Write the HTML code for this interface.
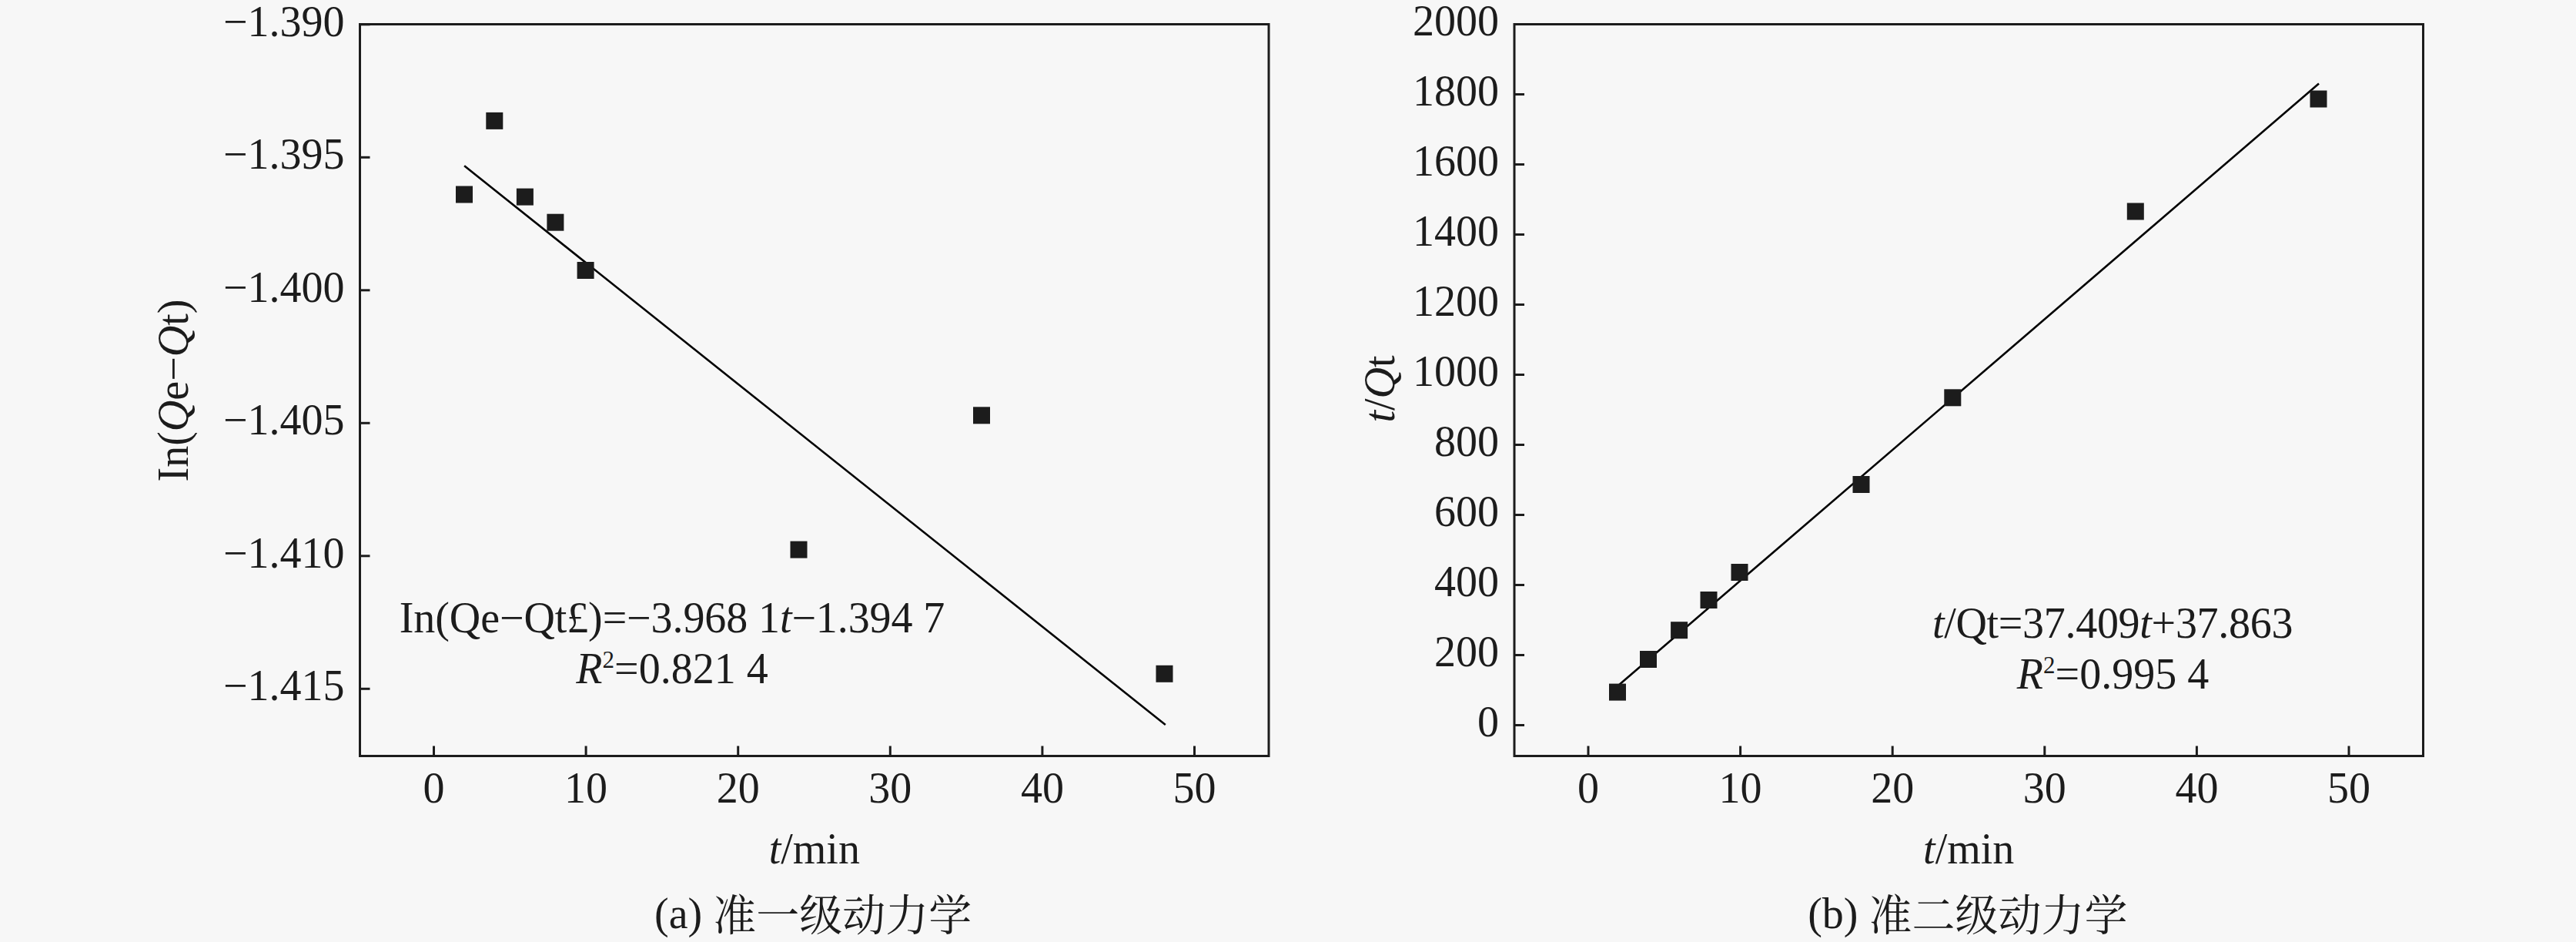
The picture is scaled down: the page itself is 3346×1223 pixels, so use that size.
<!DOCTYPE html>
<html><head><meta charset="utf-8"><style>
html,body{margin:0;padding:0;background:#f7f7f7;}
body{width:3346px;height:1223px;overflow:hidden;}
svg{display:block;}
</style></head><body>
<svg width="3346" height="1223" viewBox="0 0 3346 1223">
<rect width="3346" height="1223" fill="#f7f7f7"/>
<g font-family='"Liberation Serif", "Noto Serif CJK SC", serif' font-size="56" fill="#1c1c1c">
<rect x="467.5" y="31.5" width="1180.5" height="950.0" fill="none" stroke="#1c1c1c" stroke-width="3"/>
<line x1="467.5" y1="31.8" x2="480.5" y2="31.8" stroke="#1c1c1c" stroke-width="3"/>
<text x="447.5" y="46.6" text-anchor="end">−1.390</text>
<line x1="467.5" y1="204.3" x2="480.5" y2="204.3" stroke="#1c1c1c" stroke-width="3"/>
<text x="447.5" y="219.1" text-anchor="end">−1.395</text>
<line x1="467.5" y1="376.8" x2="480.5" y2="376.8" stroke="#1c1c1c" stroke-width="3"/>
<text x="447.5" y="391.6" text-anchor="end">−1.400</text>
<line x1="467.5" y1="549.3" x2="480.5" y2="549.3" stroke="#1c1c1c" stroke-width="3"/>
<text x="447.5" y="564.1" text-anchor="end">−1.405</text>
<line x1="467.5" y1="721.8" x2="480.5" y2="721.8" stroke="#1c1c1c" stroke-width="3"/>
<text x="447.5" y="736.6" text-anchor="end">−1.410</text>
<line x1="467.5" y1="894.3" x2="480.5" y2="894.3" stroke="#1c1c1c" stroke-width="3"/>
<text x="447.5" y="909.1" text-anchor="end">−1.415</text>
<line x1="563.5" y1="981.5" x2="563.5" y2="968.5" stroke="#1c1c1c" stroke-width="3"/>
<text x="563.5" y="1041.7" text-anchor="middle">0</text>
<line x1="761.1" y1="981.5" x2="761.1" y2="968.5" stroke="#1c1c1c" stroke-width="3"/>
<text x="761.1" y="1041.7" text-anchor="middle">10</text>
<line x1="958.7" y1="981.5" x2="958.7" y2="968.5" stroke="#1c1c1c" stroke-width="3"/>
<text x="958.7" y="1041.7" text-anchor="middle">20</text>
<line x1="1156.3" y1="981.5" x2="1156.3" y2="968.5" stroke="#1c1c1c" stroke-width="3"/>
<text x="1156.3" y="1041.7" text-anchor="middle">30</text>
<line x1="1353.9" y1="981.5" x2="1353.9" y2="968.5" stroke="#1c1c1c" stroke-width="3"/>
<text x="1353.9" y="1041.7" text-anchor="middle">40</text>
<line x1="1551.5" y1="981.5" x2="1551.5" y2="968.5" stroke="#1c1c1c" stroke-width="3"/>
<text x="1551.5" y="1041.7" text-anchor="middle">50</text>
<line x1="603.1" y1="215.3" x2="1513.8" y2="941" stroke="#000" stroke-width="2.6"/>
<rect x="592.0" y="241.5" width="22" height="22" fill="#1c1c1c"/>
<rect x="631.3" y="145.9" width="22" height="22" fill="#1c1c1c"/>
<rect x="670.9" y="244.6" width="22" height="22" fill="#1c1c1c"/>
<rect x="710.4" y="277.7" width="22" height="22" fill="#1c1c1c"/>
<rect x="749.6" y="340.0" width="22" height="22" fill="#1c1c1c"/>
<rect x="1026.5" y="702.6" width="22" height="22" fill="#1c1c1c"/>
<rect x="1264.0" y="528.3" width="22" height="22" fill="#1c1c1c"/>
<rect x="1501.5" y="863.8" width="22" height="22" fill="#1c1c1c"/>
<text x="873" y="820.6" text-anchor="middle" letter-spacing="-0.1">In(Qe−Qt£)=−3.968 1<tspan font-style="italic">t</tspan>−1.394 7</text>
<text x="873" y="886.6" text-anchor="middle" letter-spacing="0"><tspan font-style="italic">R</tspan><tspan font-size="31" dy="-20">2</tspan><tspan dy="20">=0.821 4</tspan></text>
<text x="1057.8" y="1121" text-anchor="middle"><tspan font-style="italic">t</tspan>/min</text>
<text x="1056.2" y="1205" text-anchor="middle">(a) <tspan font-family="'Liberation Serif', 'Noto Serif CJK SC', serif" font-weight="400" dy="3">准一级动力学</tspan></text>
<text transform="translate(244,507) rotate(-90)" text-anchor="middle">In(<tspan font-style="italic">Q</tspan>e−<tspan font-style="italic">Q</tspan>t)</text>
<rect x="1967.0" y="31.5" width="1180.5" height="950.0" fill="none" stroke="#1c1c1c" stroke-width="3"/>
<line x1="1967.0" y1="31.5" x2="1980.0" y2="31.5" stroke="#1c1c1c" stroke-width="3"/>
<text x="1947.0" y="46.3" text-anchor="end">2000</text>
<line x1="1967.0" y1="122.5" x2="1980.0" y2="122.5" stroke="#1c1c1c" stroke-width="3"/>
<text x="1947.0" y="137.3" text-anchor="end">1800</text>
<line x1="1967.0" y1="213.5" x2="1980.0" y2="213.5" stroke="#1c1c1c" stroke-width="3"/>
<text x="1947.0" y="228.3" text-anchor="end">1600</text>
<line x1="1967.0" y1="304.5" x2="1980.0" y2="304.5" stroke="#1c1c1c" stroke-width="3"/>
<text x="1947.0" y="319.3" text-anchor="end">1400</text>
<line x1="1967.0" y1="395.5" x2="1980.0" y2="395.5" stroke="#1c1c1c" stroke-width="3"/>
<text x="1947.0" y="410.3" text-anchor="end">1200</text>
<line x1="1967.0" y1="486.5" x2="1980.0" y2="486.5" stroke="#1c1c1c" stroke-width="3"/>
<text x="1947.0" y="501.3" text-anchor="end">1000</text>
<line x1="1967.0" y1="577.5" x2="1980.0" y2="577.5" stroke="#1c1c1c" stroke-width="3"/>
<text x="1947.0" y="592.3" text-anchor="end">800</text>
<line x1="1967.0" y1="668.5" x2="1980.0" y2="668.5" stroke="#1c1c1c" stroke-width="3"/>
<text x="1947.0" y="683.3" text-anchor="end">600</text>
<line x1="1967.0" y1="759.5" x2="1980.0" y2="759.5" stroke="#1c1c1c" stroke-width="3"/>
<text x="1947.0" y="774.3" text-anchor="end">400</text>
<line x1="1967.0" y1="850.5" x2="1980.0" y2="850.5" stroke="#1c1c1c" stroke-width="3"/>
<text x="1947.0" y="865.3" text-anchor="end">200</text>
<line x1="1967.0" y1="941.5" x2="1980.0" y2="941.5" stroke="#1c1c1c" stroke-width="3"/>
<text x="1947.0" y="956.3" text-anchor="end">0</text>
<line x1="2063.0" y1="981.5" x2="2063.0" y2="968.5" stroke="#1c1c1c" stroke-width="3"/>
<text x="2063.0" y="1041.7" text-anchor="middle">0</text>
<line x1="2260.6" y1="981.5" x2="2260.6" y2="968.5" stroke="#1c1c1c" stroke-width="3"/>
<text x="2260.6" y="1041.7" text-anchor="middle">10</text>
<line x1="2458.2" y1="981.5" x2="2458.2" y2="968.5" stroke="#1c1c1c" stroke-width="3"/>
<text x="2458.2" y="1041.7" text-anchor="middle">20</text>
<line x1="2655.8" y1="981.5" x2="2655.8" y2="968.5" stroke="#1c1c1c" stroke-width="3"/>
<text x="2655.8" y="1041.7" text-anchor="middle">30</text>
<line x1="2853.4" y1="981.5" x2="2853.4" y2="968.5" stroke="#1c1c1c" stroke-width="3"/>
<text x="2853.4" y="1041.7" text-anchor="middle">40</text>
<line x1="3051.0" y1="981.5" x2="3051.0" y2="968.5" stroke="#1c1c1c" stroke-width="3"/>
<text x="3051.0" y="1041.7" text-anchor="middle">50</text>
<line x1="2102" y1="890" x2="3012" y2="108.5" stroke="#000" stroke-width="2.6"/>
<rect x="2090.0" y="887.6" width="22" height="22" fill="#1c1c1c"/>
<rect x="2130.0" y="845.0" width="22" height="22" fill="#1c1c1c"/>
<rect x="2170.1" y="807.2" width="22" height="22" fill="#1c1c1c"/>
<rect x="2208.5" y="768.0" width="22" height="22" fill="#1c1c1c"/>
<rect x="2248.5" y="732.0" width="22" height="22" fill="#1c1c1c"/>
<rect x="2406.5" y="618.0" width="22" height="22" fill="#1c1c1c"/>
<rect x="2525.3" y="505.3" width="22" height="22" fill="#1c1c1c"/>
<rect x="2762.8" y="263.5" width="22" height="22" fill="#1c1c1c"/>
<rect x="3000.5" y="117.5" width="22" height="22" fill="#1c1c1c"/>
<text x="2744" y="827.5" text-anchor="middle" letter-spacing="-0.3"><tspan font-style="italic">t</tspan>/Qt=37.409<tspan font-style="italic">t</tspan>+37.863</text>
<text x="2744.5" y="893.5" text-anchor="middle" letter-spacing="0"><tspan font-style="italic">R</tspan><tspan font-size="31" dy="-20">2</tspan><tspan dy="20">=0.995 4</tspan></text>
<text x="2557.2" y="1121" text-anchor="middle"><tspan font-style="italic">t</tspan>/min</text>
<text x="2555.8" y="1205" text-anchor="middle">(b) <tspan font-family="'Liberation Serif', 'Noto Serif CJK SC', serif" font-weight="400" dy="3">准二级动力学</tspan></text>
<text transform="translate(1811,505) rotate(-90)" text-anchor="middle"><tspan font-style="italic">t</tspan>/<tspan font-style="italic">Q</tspan>t</text>
</g></svg>
</body></html>
